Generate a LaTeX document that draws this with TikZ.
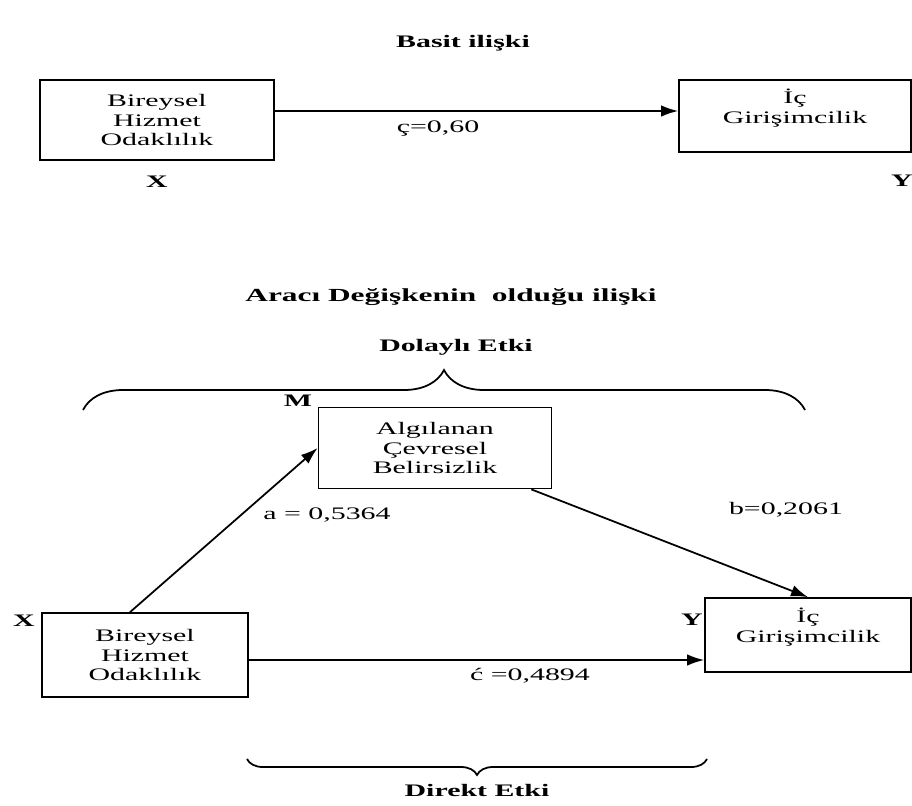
\documentclass[tikz,border=0pt]{standalone}
\usepackage{fontspec}
\setmainfont{Liberation Serif}[FakeStretch=1.7]
\usetikzlibrary{arrows.meta,decorations.pathreplacing}

\begin{document}
\begin{tikzpicture}[x=0.02cm,y=-0.02cm]
 \tikzset{box/.style = {shape=rectangle,draw,line width=1pt,align=center,inner sep=0pt,font=\fontsize{10}{11.3}\selectfont}}
 \tikzset{edge/.style = {-{Latex[length=3.4mm,width=2.3mm]},line width=1pt}}
 \tikzset{lbl/.style = {font=\fontsize{10}{12}\selectfont}}
 \tikzset{title/.style = {font=\fontsize{10}{12}\selectfont\bfseries}}
 \tikzset{var/.style = {font=\fontsize{10}{12}\selectfont\bfseries}}
 \tikzset{curly/.style = {decorate,line width=1pt}}
 \useasboundingbox (0,0) rectangle (912,805);
 % basit iliski
 \node[title] (basit) at (463,43) {Basit ilişki};
 \node[box,minimum width=4.68cm,minimum height=1.6cm] (x1) at (157,120) {Bireysel\\Hizmet\\Odaklılık};
 \node[box,minimum width=4.64cm,minimum height=1.44cm] (y1) at (795,116) {İç\\Girişimcilik\\\mbox{}};
 \node[var] (xa) at (157,182) {X};
 \node[var] (ya) at (902,181) {Y};
 \draw[edge] ([yshift=0.18cm]x1.east) -- ([yshift=0.18cm]x1.east -| y1.west);
 \node[lbl] (c1) at (438,129) {ç=0,60};
 % araci degisken
 \node[title,font=\fontsize{10.5}{12}\selectfont\bfseries] (araci) at (451,297) {Aracı Değişkenin~ olduğu ilişki};
 \node[title] (dolayli) at (456,347) {Dolaylı Etki};
 \coordinate (tl) at (83,410);
 \coordinate (tr) at (805,410);
 \draw[curly,decoration={brace,amplitude=0.8cm}] (tl) -- (tr);
 \node[box,minimum width=4.66cm,minimum height=1.62cm] (m) at (435,448) {Algılanan\\Çevresel\\Belirsizlik};
 \node[var] (mm) at (298,401) {M};
 \node[box,minimum width=4.12cm,minimum height=1.68cm] (x2) at (145,655) {Bireysel\\Hizmet\\Odaklılık};
 \node[box,minimum width=4.12cm,minimum height=1.48cm] (y2) at (808,635) {İç\\Girişimcilik\\\mbox{}};
 \node[var] (xb) at (24,621) {X};
 \node[var] (yb) at (692,620) {Y};
 \draw[edge] ([xshift=-0.3cm]x2.north) -- (m.west);
 \draw[edge] ([xshift=-0.42cm]m.south east) -- (y2.north);
 \draw[edge] ([yshift=-0.1cm]x2.east) -- ([yshift=-0.1cm]x2.east -| y2.west);
 \node[lbl] (a) at (327,515) {a = 0,5364};
 \node[lbl] (b) at (786,510) {b=0,2061};
 \node[lbl] (c2) at (530,676) {ć =0,4894};
 \coordinate (bl) at (247,759);
 \coordinate (br) at (707,759);
 \draw[curly,decoration={brace,mirror,amplitude=0.32cm}] (bl) -- (br);
 \node[title] (direkt) at (477,790) {Direkt Etki};
\end{tikzpicture}
\end{document}
